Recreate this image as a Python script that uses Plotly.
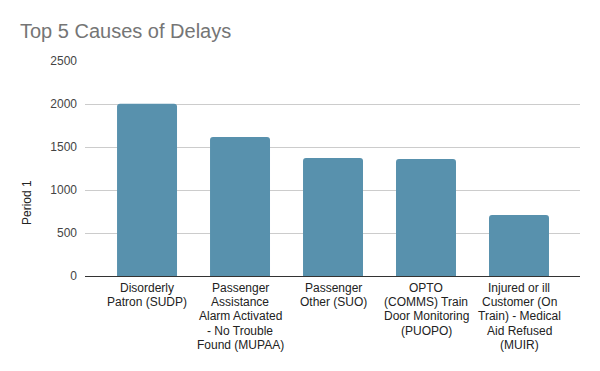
import plotly.graph_objects as go

categories = [
    "Disorderly<br>Patron (SUDP)",
    "Passenger<br>Assistance<br>Alarm Activated<br>- No Trouble<br>Found (MUPAA)",
    "Passenger<br>Other (SUO)",
    "OPTO<br>(COMMS) Train<br>Door Monitoring<br>(PUOPO)",
    "Injured or ill<br>Customer (On<br>Train) - Medical<br>Aid Refused<br>(MUIR)",
]
values = [2003, 1616, 1372, 1360, 709]
y_ticks = [0, 500, 1000, 1500, 2000, 2500]

# page body has an 8px margin; size the figure to fill the rest of the window
W, H = 592, 363
PLOT_H = 215

fig = go.Figure(go.Bar(
    x=list(range(len(categories))),
    y=values,
    marker=dict(color="#5891ad", cornerradius=3, line=dict(width=0)),
    width=0.645,
))

fig.update_layout(
    width=W, height=H,
    margin=dict(l=77, r=20, t=53, b=95, autoexpand=False),
    paper_bgcolor="white", plot_bgcolor="white",
    font=dict(family="Liberation Sans, Arial", size=12, color="#222222"),
    title=dict(text="Top 5 Causes of Delays", x=12 / W, xref="container", xanchor="left",
               y=1 - 23 / H, yref="container", yanchor="middle", pad=dict(l=0, r=0, t=0, b=0),
               font=dict(size=20, color="#757575", family="Liberation Sans, Arial")),
    showlegend=False,
)

fig.update_xaxes(
    tickmode="array", tickvals=list(range(len(categories))), ticktext=[""] * len(categories),
    range=[-0.667, 4.656], showgrid=False, zeroline=False, automargin=False,
    showline=True, linecolor="#333333", linewidth=1, ticks="",
)
fig.update_yaxes(
    range=[0, 2501], tickvals=y_ticks, showgrid=True, gridcolor="#cccccc",
    zeroline=False, showline=False, ticks="", automargin=False,
    tickfont=dict(size=12, color="#444444"), ticklabelstandoff=7,
)

# category labels, one annotation per line for tighter line spacing
for i, label in enumerate(categories):
    for j, line in enumerate(label.split("<br>")):
        fig.add_annotation(
            text=line, xref="x", yref="paper", x=i, y=-(12 + j * 14.2) / PLOT_H,
            showarrow=False, xanchor="center", yanchor="middle",
            font=dict(size=12, color="#222222"),
        )

fig.add_annotation(
    text="Period 1", textangle=-90, xref="paper", yref="paper",
    x=-(85 - 27) / 495, y=(276 - 203) / PLOT_H, showarrow=False,
    xanchor="center", yanchor="middle",
    font=dict(size=12, color="#222222"),
)

fig.write_html("out.html")
